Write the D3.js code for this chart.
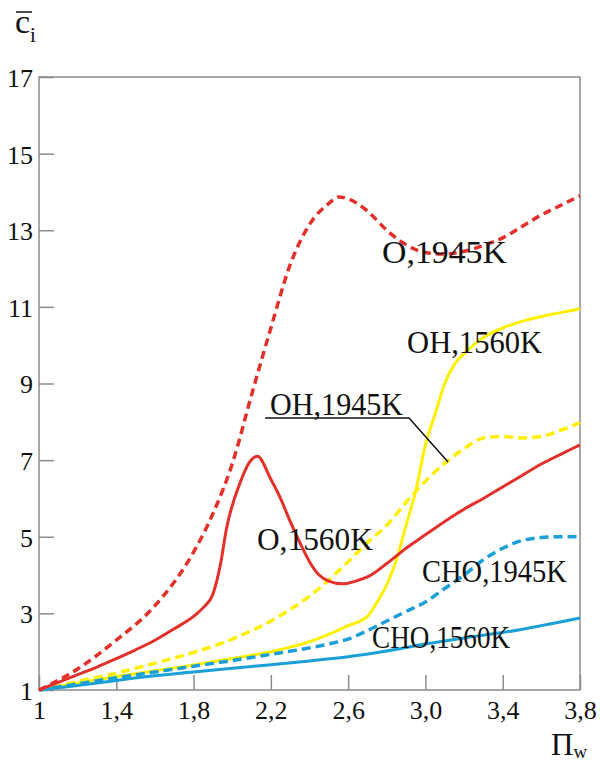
<!DOCTYPE html>
<html>
<head>
<meta charset="utf-8">
<script src="https://cdn.jsdelivr.net/npm/d3@7"></script>
<style>
  body { margin: 0; background: #fff; }
  svg { display: block; }
  text { font-family: "Liberation Serif", "DejaVu Serif", serif; fill: #111; }
</style>
</head>
<body>
<svg id="chart" width="600" height="764"></svg>
<script>
// --- data ---
var xTicks = [1, 1.4, 1.8, 2.2, 2.6, 3.0, 3.4, 3.8]
var xTickLabels = ["1", "1,4", "1,8", "2,2", "2,6", "3,0", "3,4", "3,8"]
var yTicks = [1, 3, 5, 7, 9, 11, 13, 15, 17]

// O, 1945K (red dashed)
var o1945_x = [1.0, 1.2, 1.4, 1.6, 1.8, 1.9, 2.0, 2.1, 2.2, 2.3, 2.4, 2.5, 2.55, 2.6, 2.7, 2.8, 2.9, 3.0, 3.1, 3.2, 3.3, 3.4, 3.5, 3.6, 3.7, 3.8]
var o1945_y = [1.0, 1.55, 2.3, 3.2, 4.6, 5.6, 6.9, 8.7, 10.45, 12.1, 13.15, 13.7, 13.87, 13.82, 13.5, 13.0, 12.62, 12.42, 12.38, 12.45, 12.6, 12.8, 13.1, 13.4, 13.65, 13.9]

// O, 1560K (red solid)
var o1560_x = [1.0, 1.1, 1.2, 1.3, 1.4, 1.5, 1.6, 1.7, 1.8, 1.85, 1.9, 1.94, 1.97, 2.04, 2.09, 2.13, 2.2, 2.25, 2.3, 2.35, 2.4, 2.45, 2.5, 2.57, 2.65, 2.7, 2.8, 2.9, 3.0, 3.1, 3.2, 3.3, 3.4, 3.5, 3.6, 3.7, 3.8]
var o1560_y = [1.0, 1.2, 1.4, 1.6, 1.82, 2.05, 2.3, 2.6, 2.92, 3.15, 3.5, 4.3, 5.2, 6.4, 6.95, 7.1, 6.5, 6.0, 5.4, 4.85, 4.35, 4.0, 3.84, 3.77, 3.86, 3.95, 4.3, 4.7, 5.05, 5.4, 5.72, 6.0, 6.3, 6.6, 6.9, 7.15, 7.4]

// OH, 1560K (yellow solid)
var oh1560_x = [1.0, 1.2, 1.4, 1.6, 1.8, 2.0, 2.2, 2.3, 2.4, 2.5, 2.6, 2.7, 2.75, 2.8, 2.85, 2.9, 2.95, 3.0, 3.05, 3.1, 3.15, 3.2, 3.3, 3.4, 3.5, 3.6, 3.7, 3.8]
var oh1560_y = [1.0, 1.18, 1.35, 1.5, 1.65, 1.82, 2.0, 2.12, 2.26, 2.45, 2.68, 2.92, 3.3, 3.75, 4.4, 5.3, 6.2, 7.4, 8.2, 9.0, 9.5, 9.78, 10.2, 10.45, 10.62, 10.75, 10.85, 10.95]

// OH, 1945K (yellow dashed)
var oh1945_x = [1.0, 1.2, 1.4, 1.6, 1.8, 2.0, 2.2, 2.3, 2.4, 2.5, 2.6, 2.7, 2.8, 2.9, 3.0, 3.1, 3.2, 3.3, 3.4, 3.5, 3.6, 3.7, 3.8]
var oh1945_y = [1.0, 1.22, 1.44, 1.7, 1.98, 2.33, 2.8, 3.1, 3.45, 3.87, 4.35, 4.85, 5.3, 5.9, 6.45, 6.92, 7.3, 7.58, 7.62, 7.58, 7.62, 7.78, 7.98]

// CHO, 1945K (blue dashed)
var cho1945_x = [1.0, 1.2, 1.4, 1.6, 1.8, 2.0, 2.2, 2.4, 2.5, 2.6, 2.7, 2.8, 2.9, 3.0, 3.1, 3.2, 3.3, 3.4, 3.5, 3.6, 3.7, 3.8]
var cho1945_y = [1.0, 1.16, 1.32, 1.47, 1.62, 1.77, 1.93, 2.1, 2.2, 2.33, 2.55, 2.8, 3.05, 3.3, 3.65, 4.0, 4.4, 4.7, 4.9, 4.98, 5.0, 5.0]

// CHO, 1560K (blue solid)
var cho1560_x = [1.0, 1.2, 1.4, 1.6, 1.8, 2.0, 2.2, 2.4, 2.6, 2.8, 3.0, 3.2, 3.4, 3.6, 3.8]
var cho1560_y = [1.0, 1.12, 1.25, 1.37, 1.47, 1.57, 1.66, 1.76, 1.87, 2.02, 2.2, 2.36, 2.5, 2.68, 2.88]

var series = [
  { xs: oh1560_x, ys: oh1560_y, color: "#fff000", dash: null },
  { xs: oh1945_x, ys: oh1945_y, color: "#fff000", dash: "9,5" },
  { xs: cho1560_x, ys: cho1560_y, color: "#1a9fd8", dash: null },
  { xs: cho1945_x, ys: cho1945_y, color: "#1a9fd8", dash: "9,5" },
  { xs: o1560_x, ys: o1560_y, color: "#e4302a", dash: null },
  { xs: o1945_x, ys: o1945_y, color: "#e4302a", dash: "8,5" }
]

// curve labels, anchored in data units
var labelText = ["O,1945K", "OH,1560K", "OH,1945K", "O,1560K", "CHO,1945K", "CHO,1560K"]
var labelPi = [2.775, 2.905, 2.196, 2.128, 2.982, 2.724]
var labelC = [12.15, 9.8, 8.18, 4.65, 3.82, 2.1]
// underline + leader for OH,1945K
var leaderPi = [2.17, 2.915, 3.117]
var leaderC = [8.1, 8.1, 6.95]

// label widths as drawn in the original (px)
var labelWidth = [125, 135, 133, 116, 145, 138]

var svg = d3.select("#chart")
var mLeft = 39, mRight = 580, mTop = 77, mBottom = 690

var x = d3.scaleLinear().domain([1, 3.8]).range([mLeft, mRight])
var y = d3.scaleLinear().domain([1, 17]).range([mBottom, mTop])

// frame
svg.append("rect")
  .attr("x", mLeft).attr("y", mTop)
  .attr("width", mRight - mLeft).attr("height", mBottom - mTop)
  .attr("fill", "none").attr("stroke", "#8c8c8c").attr("stroke-width", 1.5)

// y ticks (inward)
var yAxis = d3.axisLeft(y).tickValues(yTicks).tickSize(-15).tickPadding(6).tickFormat(d3.format("d"))
var gy = svg.append("g").attr("transform", "translate(" + mLeft + ",0)").call(yAxis)
gy.select(".domain").remove()
gy.selectAll(".tick line").attr("stroke", "#8c8c8c").attr("stroke-width", 1.5)
gy.selectAll(".tick text").attr("font-size", 26).attr("font-family", "Liberation Serif").attr("fill", "#111").attr("dy", "0.36em")

// x ticks (inward)
var xAxis = d3.axisBottom(x).tickValues(xTicks).tickSize(-15).tickPadding(11).tickFormat((d, i) => xTickLabels[i])
var gx = svg.append("g").attr("transform", "translate(0," + mBottom + ")").call(xAxis)
gx.select(".domain").remove()
gx.selectAll(".tick line").attr("stroke", "#8c8c8c").attr("stroke-width", 1.5)
gx.selectAll(".tick text").attr("font-size", 26).attr("font-family", "Liberation Serif").attr("fill", "#111").attr("dy", "0.71em")

// curves
var line = d3.line()
  .x(d => x(d[0]))
  .y(d => y(d[1]))
  .curve(d3.curveMonotoneX)

series.forEach(function (s) {
  var pts = s.xs.map((v, i) => [v, s.ys[i]])
  svg.append("path")
    .datum(pts)
    .attr("d", line)
    .attr("fill", "none")
    .attr("stroke", s.color)
    .attr("stroke-width", s.dash ? 3.5 : 3)
    .attr("stroke-dasharray", s.dash)
})

// labels
svg.append("g").selectAll("text")
  .data(labelText)
  .enter().append("text")
  .attr("x", (d, i) => x(labelPi[i]))
  .attr("y", (d, i) => y(labelC[i]))
  .attr("font-size", 31)
  .attr("textLength", (d, i) => labelWidth[i])
  .attr("lengthAdjust", "spacingAndGlyphs")
  .text(d => d)

svg.append("path")
  .attr("d", d3.line().x((d, i) => x(d)).y((d, i) => y(leaderC[i]))(leaderPi))
  .attr("fill", "none").attr("stroke", "#111").attr("stroke-width", 1.5)

// axis titles
var ct = svg.append("text").attr("x", 15).attr("y", 33).attr("font-size", 34)
ct.append("tspan").text("c")
ct.append("tspan").attr("font-size", 21).attr("dy", 9).text("i")
svg.append("line").attr("x1", 16).attr("x2", 32).attr("y1", 12).attr("y2", 12)
  .attr("stroke", "#111").attr("stroke-width", 1.5)

var pt = svg.append("text").attr("x", 551).attr("y", 755).attr("font-size", 31)
pt.append("tspan").text("Π")
pt.append("tspan").attr("font-size", 19).attr("dy", 3).text("w")
</script>
</body>
</html>
